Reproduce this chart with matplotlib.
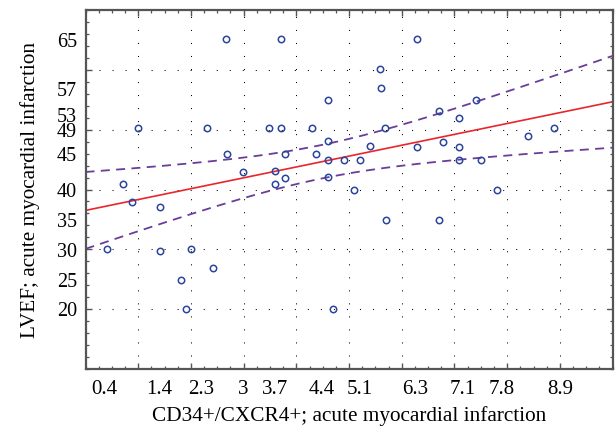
import numpy as np
import matplotlib
matplotlib.use("Agg")
import matplotlib.pyplot as plt
from matplotlib.ticker import MultipleLocator

# Datos (CD34+/CXCR4+ vs LVEF)
cd34 = [0.40, 0.71, 0.89, 1.00, 1.41, 1.41, 1.81, 1.90, 2.00, 2.30,
        2.41, 2.67, 2.69, 2.99, 3.49, 3.60, 3.60, 3.70, 3.71, 3.79,
        3.79, 4.29, 4.38, 4.60, 4.60, 4.60, 4.60, 4.70, 4.90, 5.10,
        5.21, 5.39, 5.58, 5.60, 5.69, 5.70, 6.29, 6.29, 6.70, 6.71,
        6.78, 7.09, 7.09, 7.08, 7.40, 7.50, 7.80, 8.40, 8.89]
lvef = [30.0, 41.0, 37.9, 50.2, 37.0, 29.8, 24.9, 20.0, 30.0, 50.2,
        26.9, 65.1, 46.0, 43.0, 50.2, 43.1, 41.0, 65.1, 50.2, 45.9,
        42.0, 50.2, 46.0, 55.0, 48.1, 45.0, 42.1, 20.0, 45.0, 40.0,
        45.0, 47.2, 60.1, 57.0, 50.2, 34.9, 65.1, 47.1, 53.1, 34.9,
        48.0, 52.0, 47.1, 45.0, 55.0, 45.0, 40.0, 49.0, 50.2]

# Etiquetas de los ejes (posiciones tal como aparecen en la figura)
xtick_pos = [0.35, 1.4, 2.2, 3.0, 3.6, 4.48, 5.2, 6.25, 7.15, 7.9, 9.0]
xtick_lab = ["0.4", "1.4", "2.3", "3", "3.7", "4.4", "5.1", "6.3", "7.1", "7.8", "8.9"]
ytick_pos = [20, 24.8, 29.9, 34.9, 40.0, 45.9, 49.9, 52.4, 56.8, 65.0]
ytick_lab = ["20", "25", "30", "35", "40", "45", "49", "53", "57", "65"]

x = np.array(cd34)
y = np.array(lvef)

# Regresion lineal y banda de confianza del 95%
b, a = np.polyfit(x, y, 1)
n = len(x)
res = y - (a + b * x)
s = np.sqrt(np.sum(res**2) / (n - 2))
sxx = np.sum((x - x.mean())**2)
t = 2.012
xs = np.linspace(0, 10, 200)
ys = a + b * xs
banda = t * s * np.sqrt(1 / n + (xs - x.mean())**2 / sxx)

plt.rcParams['font.family'] = ['Liberation Serif', 'DejaVu Serif']

fig = plt.figure(figsize=(6.16, 4.30), dpi=100)
ax = fig.add_axes([0.1388, 0.1419, 0.8557, 0.8348])

ax.plot(xs, ys + banda, color='#6a3d9a', lw=1.3, ls=(0, (5, 3.5)))
ax.plot(xs, ys - banda, color='#6a3d9a', lw=1.3, ls=(0, (5, 3.5)))
ax.plot(xs, ys, color='#e8262c', lw=1.2)
ax.plot(x, y, 'o', ms=4.6, mfc='none', mec='#2b449c', mew=1.1)

ax.set_xlim(0, 10)
ax.set_ylim(10, 70)
ax.set_xticks(np.arange(1, 10))
ax.set_yticks(np.arange(20, 61, 10))
ax.xaxis.set_minor_locator(MultipleLocator(0.25))
ax.yaxis.set_minor_locator(MultipleLocator(2))
ax.tick_params(which='both', direction='in', top=True, right=True,
               labelbottom=False, labelleft=False, color='#555555')
ax.tick_params(which='major', length=4.5, width=1.0)
ax.tick_params(which='minor', length=2.5, width=0.9)
ax.grid(True, which='major', color='black', lw=0.75, ls=(0, (1, 11.5)))
for sp in ax.spines.values():
    sp.set_color('#555555')
    sp.set_linewidth(1.6)

# Ejes secundarios solo para las etiquetas
secx = ax.secondary_xaxis('bottom')
secx.set_xticks(xtick_pos, xtick_lab)
secx.tick_params(length=0, pad=8, labelsize=15)
secx.spines['bottom'].set_visible(False)
secx.set_xlabel("CD34+/CXCR4+; acute myocardial infarction", fontsize=15.3, labelpad=5)

secy = ax.secondary_yaxis('left')
secy.set_yticks(ytick_pos, ytick_lab)
secy.tick_params(length=0, pad=6, labelsize=14.5)
secy.spines['left'].set_visible(False)
secy.set_ylabel("LVEF; acute myocardial infarction", fontsize=15.3, labelpad=12)

fig.savefig("out.png", dpi=100)
